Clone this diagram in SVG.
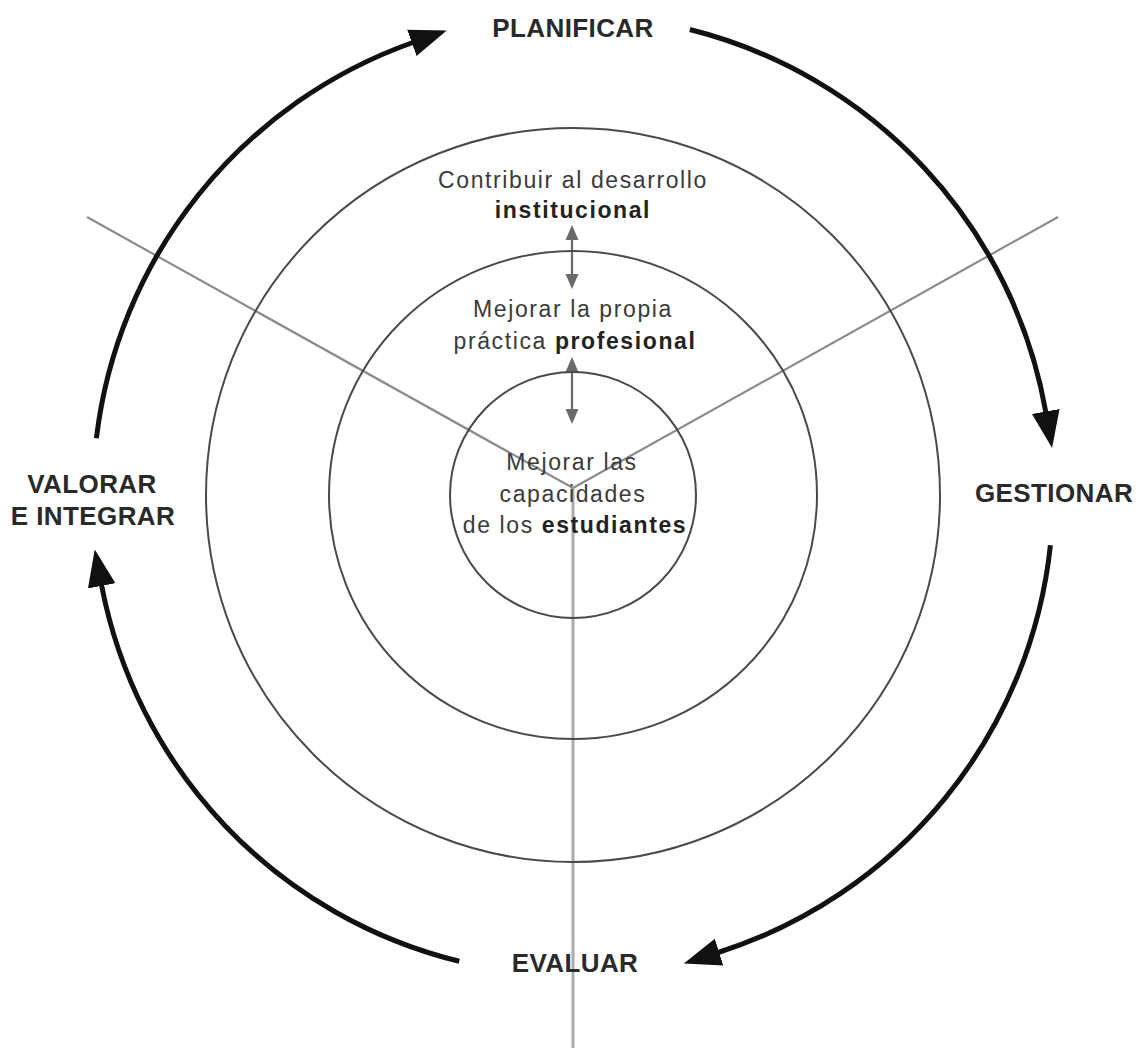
<svg xmlns="http://www.w3.org/2000/svg" width="1141" height="1048" viewBox="0 0 1141 1048">
<style>
.ring{fill:none;stroke:#4a4a4a;stroke-width:2}
.spoke{stroke:#8c8c8c;stroke-width:2.2;fill:none}
.axis{stroke:#ababab;stroke-width:3;fill:none}
.cyc{fill:none;stroke:#111;stroke-width:5}
.dbl{stroke:#6a6a6a;stroke-width:2.2;fill:none}
.t{font-family:"Liberation Sans",Arial,sans-serif;font-size:23px;fill:#3a3a3a;letter-spacing:1.6px;text-anchor:middle}
.t .b{font-weight:bold;fill:#222}
.lab{font-family:"Liberation Sans",Arial,sans-serif;font-size:26px;font-weight:bold;fill:#2a2a2a;text-anchor:middle;letter-spacing:0.4px}
</style>
<defs>
<marker id="bigArrow" markerUnits="userSpaceOnUse" markerWidth="40" markerHeight="32" refX="1" refY="15" orient="auto" viewBox="0 0 40 30">
<path d="M0,1 L37,15 L0,29 z" fill="#111"/>
</marker>
<marker id="smallArrow" markerUnits="userSpaceOnUse" markerWidth="16" markerHeight="14" refX="1" refY="6.5" orient="auto-start-reverse" viewBox="0 0 16 13">
<path d="M0,0 L15,6.5 L0,13 z" fill="#6a6a6a"/>
</marker>
</defs>
<rect width="1141" height="1048" fill="#fff"/>

<g id="connectors">
<line class="axis" x1="573" y1="488" x2="573" y2="1048"/>
<line class="spoke" x1="87" y1="217" x2="573" y2="488"/>
<line class="spoke" x1="1058" y1="217" x2="573" y2="488"/>
<path class="cyc" d="M96.4,438.2 A480,480 0 0 1 412.8,42.5" marker-end="url(#bigArrow)"/>
<path class="cyc" d="M689.9,29.5 A480,480 0 0 1 1045.9,412.5" marker-end="url(#bigArrow)"/>
<path class="cyc" d="M1050.4,545.2 A480,480 0 0 1 718.1,952.5" marker-end="url(#bigArrow)"/>
<path class="cyc" d="M459.3,961.3 A480,480 0 0 1 101.5,584.9" marker-end="url(#bigArrow)"/>
<line class="dbl" x1="572" y1="239" x2="572" y2="275" marker-start="url(#smallArrow)" marker-end="url(#smallArrow)"/>
<line class="dbl" x1="572" y1="371" x2="572" y2="410" marker-start="url(#smallArrow)" marker-end="url(#smallArrow)"/>
</g>

<g id="ring-outer">
<circle class="ring" cx="573" cy="495" r="367"/>
<text class="t" x="573" y="188">Contribuir al desarrollo</text>
<text class="t" x="573" y="218"><tspan class="b">institucional</tspan></text>
</g>
<g id="ring-middle">
<circle class="ring" cx="573" cy="495" r="244"/>
<text class="t" x="573" y="317">Mejorar la propia</text>
<text class="t" x="575" y="349">práctica <tspan class="b">profesional</tspan></text>
</g>
<g id="ring-inner">
<circle class="ring" cx="573" cy="495" r="123"/>
<text class="t" x="572" y="470">Mejorar las</text>
<text class="t" x="573" y="502">capacidades</text>
<text class="t" x="575" y="533">de los <tspan class="b">estudiantes</tspan></text>
</g>

<g id="planificar"><text class="lab" x="573" y="37">PLANIFICAR</text></g>
<g id="gestionar"><text class="lab" x="1054" y="502">GESTIONAR</text></g>
<g id="evaluar"><text class="lab" x="575" y="972">EVALUAR</text></g>
<g id="valorar">
<text class="lab" x="92" y="493">VALORAR</text>
<text class="lab" x="93" y="525">E INTEGRAR</text>
</g>
</svg>
